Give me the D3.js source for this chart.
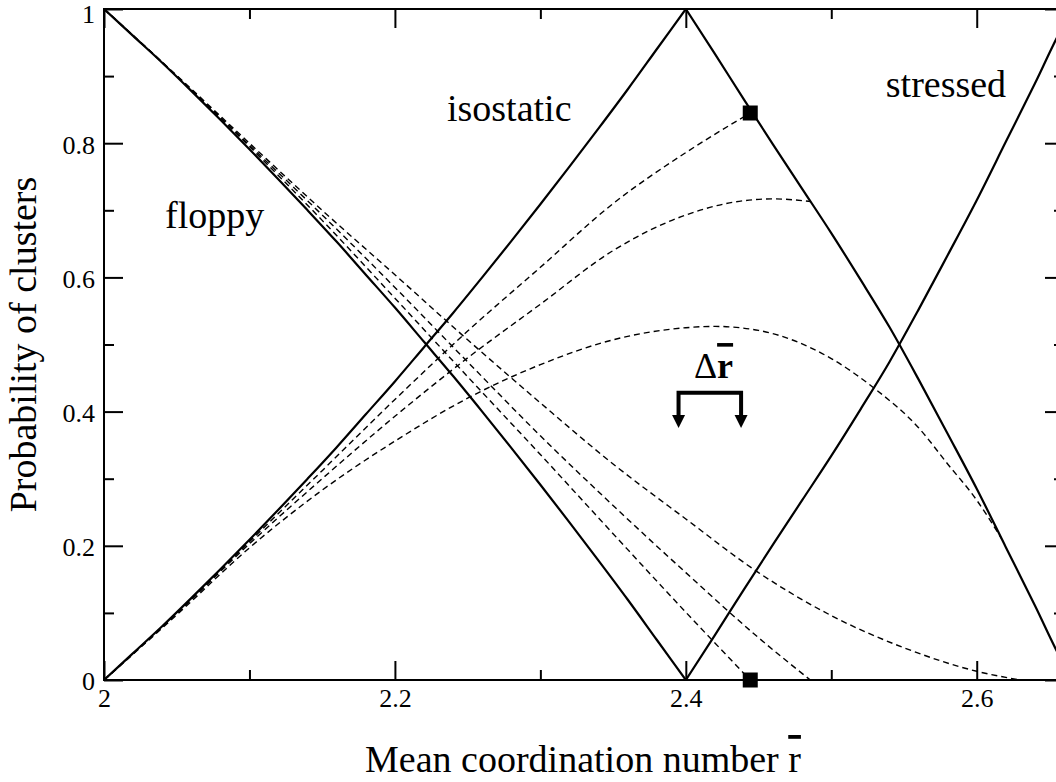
<!DOCTYPE html>
<html>
<head>
<meta charset="utf-8">
<script src="https://cdn.jsdelivr.net/npm/d3@7"></script>
<style>
  body { margin: 0; background: #fff; }
  svg { display: block; }
</style>
</head>
<body>
<svg id="chart" width="1056" height="782"></svg>
<script>
// Step 1 ([r, probability] pairs)

// solid curves (isostatic split at its peak so the corner stays sharp)
const isostaticRising = [
  [2.00, 0], [2.02, 0.040], [2.04, 0.080], [2.06, 0.122], [2.08, 0.165], [2.10, 0.209],
  [2.12, 0.254], [2.14, 0.300], [2.16, 0.347], [2.18, 0.396], [2.20, 0.445], [2.22, 0.496],
  [2.24, 0.547], [2.26, 0.600], [2.28, 0.654], [2.30, 0.709], [2.32, 0.765], [2.34, 0.822],
  [2.36, 0.880], [2.38, 0.940], [2.40, 1.000]
];
const isostaticFalling = [
  [2.40, 1.000], [2.42, 0.933], [2.44, 0.865], [2.46, 0.798], [2.48, 0.732], [2.50, 0.666],
  [2.52, 0.597], [2.54, 0.526], [2.56, 0.448], [2.58, 0.367], [2.60, 0.285], [2.62, 0.198],
  [2.64, 0.111], [2.66, 0.023], [2.6667, 0]
];
const floppySolid = [
  [2.00, 1], [2.02, 0.960], [2.04, 0.920], [2.06, 0.878], [2.08, 0.835], [2.10, 0.791],
  [2.12, 0.746], [2.14, 0.700], [2.16, 0.653], [2.18, 0.604], [2.20, 0.555], [2.22, 0.504],
  [2.24, 0.453], [2.26, 0.400], [2.28, 0.346], [2.30, 0.291], [2.32, 0.235], [2.34, 0.178],
  [2.36, 0.120], [2.38, 0.060], [2.40, 0]
];
const stressedSolid = [
  [2.40, 0], [2.42, 0.067], [2.44, 0.135], [2.46, 0.202], [2.48, 0.268], [2.50, 0.334],
  [2.52, 0.403], [2.54, 0.474], [2.56, 0.552], [2.58, 0.633], [2.60, 0.715], [2.62, 0.802],
  [2.64, 0.889], [2.66, 0.977], [2.6667, 1]
];

// dashed curves: isostatic-like (rising) and floppy-like (falling)
const risingDashed1 = [
  [2.00, 0], [2.05, 0.100], [2.10, 0.206], [2.15, 0.312], [2.20, 0.418], [2.25, 0.520],
  [2.30, 0.615], [2.35, 0.710], [2.40, 0.786], [2.4443, 0.845]
];
const risingDashed2 = [
  [2.00, 0], [2.05, 0.099], [2.10, 0.203], [2.15, 0.300], [2.20, 0.393], [2.25, 0.480],
  [2.30, 0.560], [2.35, 0.640], [2.40, 0.693], [2.43, 0.711], [2.46, 0.717], [2.486, 0.713]
];
const risingDashed3 = [
  [2.00, 0], [2.05, 0.097], [2.10, 0.197], [2.15, 0.283], [2.20, 0.356], [2.25, 0.420],
  [2.30, 0.470], [2.35, 0.507], [2.40, 0.525], [2.42, 0.527], [2.45, 0.521], [2.50, 0.479],
  [2.53, 0.434], [2.56, 0.376], [2.58, 0.322], [2.60, 0.268], [2.617, 0.211]
];
const fallingDashed1 = [
  [2.00, 1], [2.05, 0.900], [2.10, 0.795], [2.15, 0.685], [2.20, 0.569], [2.25, 0.452],
  [2.30, 0.336], [2.35, 0.218], [2.40, 0.101], [2.4443, 0]
];
const fallingDashed2 = [
  [2.00, 1], [2.05, 0.900], [2.10, 0.797], [2.15, 0.693], [2.20, 0.585], [2.25, 0.474],
  [2.30, 0.364], [2.35, 0.260], [2.40, 0.160], [2.45, 0.063], [2.4856, 0]
];
const fallingDashed3 = [
  [2.00, 1], [2.05, 0.901], [2.10, 0.800], [2.15, 0.700], [2.20, 0.604], [2.25, 0.507],
  [2.30, 0.413], [2.35, 0.322], [2.40, 0.240], [2.45, 0.160], [2.50, 0.096], [2.55, 0.048],
  [2.60, 0.013], [2.63, 0]
];

// square markers and the Δr̄ window
const squareMarks = [[2.4443, 0.845], [2.4443, 0]];
const windowEdges = [2.395, 2.438];

// axes
const xMajorTicks = [2, 2.2, 2.4, 2.6];
const xMinorTicks = [2.1, 2.3, 2.5];
const yMajorTicks = [0, 0.2, 0.4, 0.6, 0.8, 1];
const yMinorTicks = [0.1, 0.3, 0.5, 0.7, 0.9];
const regionLabels = ["floppy", "isostatic", "stressed"];

// Step 2 — scales
const plotLeft = 104, plotRight = 1064, plotTop = 9, plotBottom = 680;
const xScale = d3.scaleLinear().domain([2, 2.66]).range([plotLeft, plotRight]);
const yScale = d3.scaleLinear().domain([0, 1]).range([plotBottom, plotTop]);

const svg = d3.select("#chart");

svg.append("clipPath").attr("id", "plot-clip")
  .append("rect")
    .attr("x", plotLeft).attr("y", plotTop)
    .attr("width", plotRight - plotLeft).attr("height", plotBottom - plotTop);

const plot = svg.append("g").attr("clip-path", "url(#plot-clip)");

const line = d3.line()
  .x(d => xScale(d[0]))
  .y(d => yScale(d[1]))
  .curve(d3.curveMonotoneX);

// Step 3 — dashed curves first, solid on top
[risingDashed1, risingDashed2, risingDashed3, fallingDashed1, fallingDashed2, fallingDashed3]
  .forEach(series => {
    plot.append("path")
      .attr("d", line(series))
      .attr("fill", "none")
      .attr("stroke", "#000")
      .attr("stroke-width", 1.4)
      .attr("stroke-dasharray", "6,4");
  });

[floppySolid, isostaticRising, isostaticFalling, stressedSolid].forEach(series => {
  plot.append("path")
    .attr("d", line(series))
    .attr("fill", "none")
    .attr("stroke", "#000")
    .attr("stroke-width", 2.2);
});

// Step 4 — axes (ticks point inward on all four sides)
const fmt = d => String(d);

svg.append("g").attr("class", "axis axis--x")
  .attr("transform", `translate(0,${plotBottom})`)
  .call(d3.axisBottom(xScale).tickValues(xMajorTicks).tickFormat(fmt)
    .tickSizeInner(-19).tickSizeOuter(0).tickPadding(9));
svg.append("g").attr("class", "axis minor")
  .attr("transform", `translate(0,${plotBottom})`)
  .call(d3.axisBottom(xScale).tickValues(xMinorTicks).tickFormat("")
    .tickSizeInner(-10).tickSizeOuter(0));

svg.append("g").attr("class", "axis axis--y")
  .attr("transform", `translate(${plotLeft},0)`)
  .call(d3.axisLeft(yScale).tickValues(yMajorTicks).tickFormat(fmt)
    .tickSizeInner(-19).tickSizeOuter(0).tickPadding(9));
svg.append("g").attr("class", "axis minor")
  .attr("transform", `translate(${plotLeft},0)`)
  .call(d3.axisLeft(yScale).tickValues(yMinorTicks).tickFormat("")
    .tickSizeInner(-10).tickSizeOuter(0));

svg.append("g").attr("class", "axis")
  .attr("transform", `translate(0,${plotTop})`)
  .call(d3.axisTop(xScale).tickValues(xMajorTicks).tickFormat("")
    .tickSizeInner(-19).tickSizeOuter(0));
svg.append("g").attr("class", "axis minor")
  .attr("transform", `translate(0,${plotTop})`)
  .call(d3.axisTop(xScale).tickValues(xMinorTicks).tickFormat("")
    .tickSizeInner(-10).tickSizeOuter(0));

svg.append("g").attr("class", "axis")
  .attr("transform", `translate(${plotRight},0)`)
  .call(d3.axisRight(yScale).tickValues(yMajorTicks).tickFormat("")
    .tickSizeInner(-19).tickSizeOuter(0));
svg.append("g").attr("class", "axis minor")
  .attr("transform", `translate(${plotRight},0)`)
  .call(d3.axisRight(yScale).tickValues(yMinorTicks).tickFormat("")
    .tickSizeInner(-10).tickSizeOuter(0));

svg.selectAll(".axis .domain").remove();
svg.selectAll(".axis line").attr("stroke", "#000").attr("stroke-width", 2);
svg.selectAll(".axis text")
  .attr("fill", "#000")
  .attr("font-size", 26);
svg.selectAll(".axis--y text").attr("dy", "0.38em");
svg.selectAll(".axis--y .tick").filter(d => d === 1).select("text").attr("dy", "0.5em");

// frame
svg.append("rect")
  .attr("x", plotLeft).attr("y", plotTop)
  .attr("width", plotRight - plotLeft).attr("height", plotBottom - plotTop)
  .attr("fill", "none").attr("stroke", "#000").attr("stroke-width", 2);

// Step 5 — square markers
const sq = 15;
svg.selectAll(".mark")
  .data(squareMarks)
  .join("rect")
    .attr("class", "mark")
    .attr("x", d => xScale(d[0]) - sq / 2)
    .attr("y", d => yScale(d[1]) - sq / 2)
    .attr("width", sq).attr("height", sq)
    .attr("fill", "#000");

// Step 6 — Δr̄ bracket with two arrows
const barY = yScale(0.428), tipY = yScale(0.3756), head = 13;
const bracket = svg.append("g").attr("class", "bracket");
bracket.append("path")
  .attr("d", `M${xScale(windowEdges[0])},${tipY - head + 1}V${barY}H${xScale(windowEdges[1])}V${tipY - head + 1}`)
  .attr("fill", "none").attr("stroke", "#000").attr("stroke-width", 4);
bracket.selectAll(".head")
  .data(windowEdges)
  .join("path")
    .attr("class", "head")
    .attr("d", d => {
      const cx = xScale(d);
      return `M${cx - head / 2},${tipY - head}L${cx + head / 2},${tipY - head}L${cx},${tipY}Z`;
    })
    .attr("fill", "#000");

const dr = svg.append("text")
  .attr("x", xScale(2.4056)).attr("y", yScale(0.45))
  .attr("font-size", 36);
dr.append("tspan").text("Δ");
dr.append("tspan").attr("font-weight", "bold")
  .style("text-decoration", "overline").text("r");

// Step 7 — region labels
const labelPos = [[2.042, 0.674], [2.2358, 0.833], [2.5375, 0.869]];
svg.selectAll(".region")
  .data(regionLabels)
  .join("text")
    .attr("class", "region")
    .attr("x", (d, i) => xScale(labelPos[i][0]))
    .attr("y", (d, i) => yScale(labelPos[i][1]))
    .attr("font-size", 38)
    .text(d => d);

// Step 8 — axis titles
const xt = svg.append("text")
  .attr("x", 583).attr("y", 772)
  .attr("text-anchor", "middle")
  .attr("font-size", 38);
xt.append("tspan").text("Mean coordination number ");
xt.append("tspan").style("text-decoration", "overline").text("r");

svg.append("text")
  .attr("transform", `translate(36,${(plotTop + plotBottom) / 2}) rotate(-90)`)
  .attr("text-anchor", "middle")
  .attr("font-size", 38)
  .text("Probability of clusters");

// one serif face on every text node
svg.selectAll("text").attr("font-family", "Liberation Serif");
</script>
</body>
</html>
